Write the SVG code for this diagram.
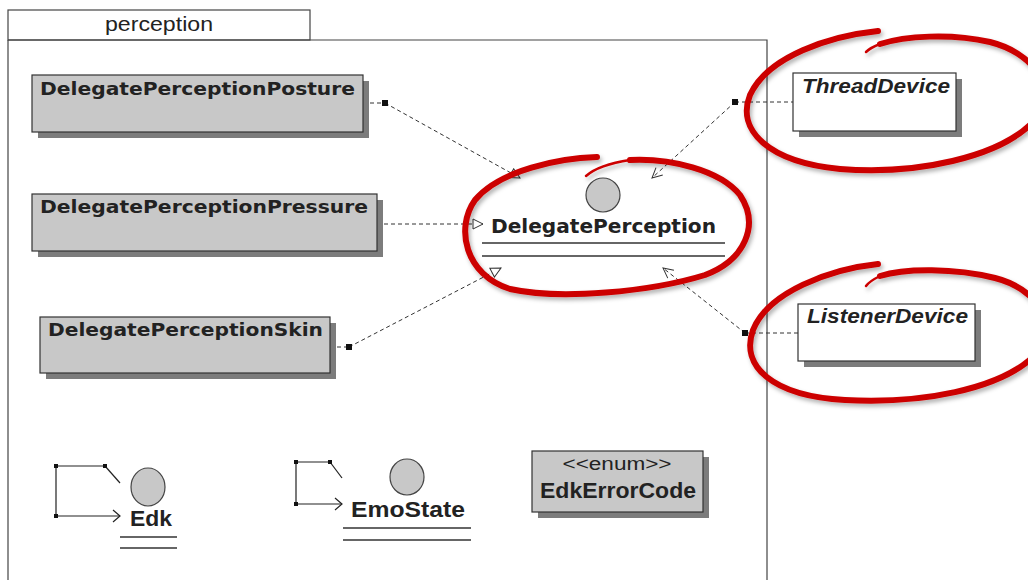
<svg xmlns="http://www.w3.org/2000/svg" width="1028" height="580" viewBox="0 0 1028 580">
  <style>
    .frame { fill: none; stroke: #444; stroke-width: 1.2; }
    .box { fill: #c8c8c8; stroke: #333; stroke-width: 1.2; }
    .wbox { fill: #ffffff; stroke: #333; stroke-width: 1.2; }
    .shadow { fill: #7c7c7c; }
    .cls { font-family: "DejaVu Sans", "Liberation Sans", sans-serif; font-weight: bold; font-size: 18px; fill: #222; }
    .ital { font-family: "Liberation Sans", "DejaVu Sans", sans-serif; font-weight: bold; font-style: italic; font-size: 20px; fill: #222; }
    .lbl { font-family: "Liberation Sans", Arial, sans-serif; font-weight: bold; font-size: 22px; fill: #222; }
    .reg { font-family: "Liberation Sans", Arial, sans-serif; font-size: 18px; fill: #222; }
    .big { font-size: 20px; }
    .dash { fill: none; stroke: #333; stroke-width: 1; stroke-dasharray: 4 3; }
    .solid { fill: none; stroke: #222; stroke-width: 1.2; }
    .ball { fill: #c8c8c8; stroke: #444; stroke-width: 1.2; }
    .rule { stroke: #333; stroke-width: 1.3; }
    .ink { fill: none; stroke: #cc0000; stroke-linecap: round; stroke-linejoin: round; }
  </style>
  <defs>
    <marker id="tri" viewBox="0 0 12 12" refX="11" refY="6" markerWidth="12" markerHeight="12" markerUnits="userSpaceOnUse" orient="auto">
      <path d="M1,1 L11,6 L1,11 Z" fill="#fff" stroke="#333" stroke-width="1"/>
    </marker>
    <marker id="vee" viewBox="0 0 12 12" refX="11" refY="6" markerWidth="12" markerHeight="12" markerUnits="userSpaceOnUse" orient="auto">
      <path d="M1,1 L11,6 L1,11" fill="none" stroke="#333" stroke-width="1"/>
    </marker>
    <filter id="soft" x="-10%" y="-10%" width="120%" height="130%">
      <feDropShadow dx="2" dy="3" stdDeviation="2" flood-color="#000" flood-opacity="0.3"/>
    </filter>
  </defs>

  <rect width="1028" height="580" fill="#ffffff"/>

  <!-- package frame -->
  <g id="package">
    <rect class="frame" x="8" y="10" width="302" height="30"/>
    <path class="frame" d="M8,40 L767,40 L767,582 M8,40 L8,582"/>
    <text class="reg big" x="159" y="31" text-anchor="middle" textLength="108" lengthAdjust="spacingAndGlyphs">perception</text>
  </g>

  <!-- connectors -->
  <g id="connectors">
    <path class="dash" d="M363,103 L385,103"/>
    <path class="dash" d="M385,103 L520,178" marker-end="url(#tri)"/>
    <path class="dash" d="M377,224 L483,224" marker-end="url(#tri)"/>
    <path class="dash" d="M330,347 L349,347"/>
    <path class="dash" d="M349,347 L501,268" marker-end="url(#tri)"/>
    <path class="dash" d="M735,102 L793,102"/>
    <path class="dash" d="M735,102 L652,178" marker-end="url(#vee)"/>
    <path class="dash" d="M745,333 L798,333"/>
    <path class="dash" d="M745,333 L663,268" marker-end="url(#vee)"/>
    <rect x="382" y="100" width="6" height="6" fill="#111"/>
    <rect x="346" y="344" width="6" height="6" fill="#111"/>
    <rect x="732" y="99" width="6" height="6" fill="#111"/>
    <rect x="742" y="330" width="6" height="6" fill="#111"/>
  </g>

  <g id="DelegatePerceptionPosture">
    <rect class="shadow" x="38" y="81" width="331" height="57"/>
    <rect class="box" x="32" y="75" width="331" height="57"/>
    <text class="cls" x="40" y="95" textLength="315" lengthAdjust="spacingAndGlyphs">DelegatePerceptionPosture</text>
  </g>

  <g id="DelegatePerceptionPressure">
    <rect class="shadow" x="38" y="200" width="345" height="57"/>
    <rect class="box" x="32" y="194" width="345" height="57"/>
    <text class="cls" x="40" y="213" textLength="328" lengthAdjust="spacingAndGlyphs">DelegatePerceptionPressure</text>
  </g>

  <g id="DelegatePerceptionSkin">
    <rect class="shadow" x="46" y="323" width="290" height="56"/>
    <rect class="box" x="40" y="317" width="290" height="56"/>
    <text class="cls" x="48" y="336" textLength="275" lengthAdjust="spacingAndGlyphs">DelegatePerceptionSkin</text>
  </g>

  <g id="DelegatePerception">
    <circle class="ball" cx="603" cy="195" r="17"/>
    <text class="cls big" x="491" y="233" textLength="225" lengthAdjust="spacingAndGlyphs">DelegatePerception</text>
    <line class="rule" x1="482" y1="243" x2="725" y2="243"/>
    <line class="rule" x1="482" y1="256" x2="725" y2="256"/>
  </g>

  <g id="ThreadDevice">
    <rect class="shadow" x="799" y="79" width="163" height="58"/>
    <rect class="wbox" x="793" y="73" width="163" height="58"/>
    <text class="ital" x="802" y="93" textLength="148" lengthAdjust="spacingAndGlyphs">ThreadDevice</text>
  </g>

  <g id="ListenerDevice">
    <rect class="shadow" x="804" y="310" width="177" height="57"/>
    <rect class="wbox" x="798" y="304" width="177" height="57"/>
    <text class="ital" x="807" y="323" textLength="161" lengthAdjust="spacingAndGlyphs">ListenerDevice</text>
  </g>

  <g id="Edk">
    <path class="solid" d="M105,466 L56,466 L56,516 L120,516"/>
    <path class="solid" d="M105,466 L120,483"/>
    <path class="solid" d="M113,510 L120,516 L113,522"/>
    <rect x="54" y="464" width="4" height="4" fill="#111"/>
    <rect x="103" y="464" width="4" height="4" fill="#111"/>
    <rect x="54" y="514" width="4" height="4" fill="#111"/>
    <ellipse class="ball" cx="148" cy="487" rx="17" ry="19"/>
    <text class="lbl" x="130" y="526" textLength="42" lengthAdjust="spacingAndGlyphs">Edk</text>
    <line class="rule" x1="120" y1="537" x2="177" y2="537"/>
    <line class="rule" x1="120" y1="548" x2="177" y2="548"/>
  </g>

  <g id="EmoState">
    <path class="solid" d="M330,462 L296,462 L296,504 L342,504"/>
    <path class="solid" d="M330,462 L342,478"/>
    <path class="solid" d="M335,498 L342,504 L335,510"/>
    <rect x="294" y="460" width="4" height="4" fill="#111"/>
    <rect x="328" y="460" width="4" height="4" fill="#111"/>
    <rect x="294" y="502" width="4" height="4" fill="#111"/>
    <ellipse class="ball" cx="407" cy="477" rx="17" ry="18"/>
    <text class="lbl" x="351" y="517" textLength="114" lengthAdjust="spacingAndGlyphs">EmoState</text>
    <line class="rule" x1="343" y1="528" x2="471" y2="528"/>
    <line class="rule" x1="343" y1="540" x2="471" y2="540"/>
  </g>

  <g id="EdkErrorCode">
    <rect class="shadow" x="538" y="457" width="171" height="61"/>
    <rect class="box" x="532" y="451" width="171" height="61"/>
    <text class="reg" x="617" y="470" text-anchor="middle" textLength="109" lengthAdjust="spacingAndGlyphs">&lt;&lt;enum&gt;&gt;</text>
    <text class="lbl" x="618" y="498" text-anchor="middle" textLength="156" lengthAdjust="spacingAndGlyphs">EdkErrorCode</text>
  </g>

  <!-- hand-drawn red highlight rings -->
  <g id="highlights" filter="url(#soft)">
    <path class="ink" stroke-width="6" d="M878,31 C830,36 768,56 750,95 C736,130 768,162 840,169 C915,175 1000,158 1035,120 C1060,85 1030,52 990,42 C950,33 905,36 880,44"/>
    <path class="ink" stroke-width="2.5" d="M880,44 C872,47 868,50 866,52"/>
    <path class="ink" stroke-width="6" d="M597,157 C560,158 500,170 475,200 C455,228 465,275 510,289 C560,300 650,292 705,275 C745,260 760,225 740,195 C720,170 670,158 630,160"/>
    <path class="ink" stroke-width="2.5" d="M630,160 C610,163 595,168 586,176"/>
    <path class="ink" stroke-width="6" d="M878,264 C830,269 768,292 753,330 C740,366 772,396 845,400 C920,404 1000,390 1035,355 C1060,322 1035,288 995,278 C955,268 905,268 880,276"/>
    <path class="ink" stroke-width="2.5" d="M880,276 C872,280 868,283 866,286"/>
  </g>
</svg>
